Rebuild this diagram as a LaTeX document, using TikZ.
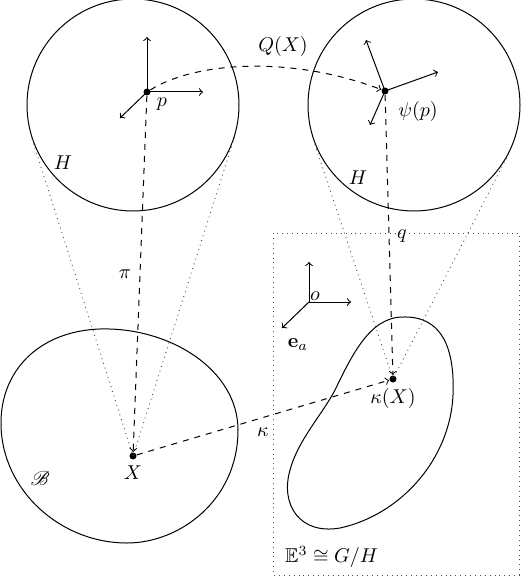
\documentclass[tikz,border=0pt]{standalone}
\usepackage{amssymb}
\usepackage{mathrsfs}
\usetikzlibrary{calc}
\begin{document}
\begin{tikzpicture}[x=0.5pt,y=-0.5pt,>=to,line width=0.5pt,
	fibre/.style={circle,draw,minimum size=106pt,inner sep=0pt},
	pt/.style={circle,fill,inner sep=0pt,minimum size=3.5pt},
	frame/.style={->},
	link/.style={->,dashed},
	cone/.style={dotted,black!70,line width=0.45pt}]
	\useasboundingbox (0,0) rectangle (520,577);
	\def\body{(100,329) .. controls (170,327) and (238,370) .. (238,430)
		.. controls (238,500) and (180,543) .. (127,543)
		.. controls (60,543) and (2,490) .. (1,425)
		.. controls (0,370) and (40,331) .. (100,329)}
	\def\image{(403,317) .. controls (440,316) and (455,345) .. (453,395)
		.. controls (450,460) and (400,515) .. (340,528)
		.. controls (300,535) and (280,505) .. (290,470)
		.. controls (298,440) and (322,415) .. (335,390)
		.. controls (352,355) and (370,317) .. (403,317)}
	\node[fibre] (fibL) at (133,105) {};
	\node[fibre] (fibR) at (414,105) {};
	\node[pt] (p) at (147,92) {};
	\node[pt] (psi) at (385,91) {};
	\node[pt] (X) at (133,456) {};
	\node[pt] (kX) at (393,379) {};
	\coordinate (o) at (309,302);
	\draw \body -- cycle;
	\draw \image -- cycle;
	\draw[cone] (273,233) rectangle (519,575);
	% cones onto the fibres
	\draw[cone] (tangent cs:node=fibL,point={(X)},solution=1) -- (X.center)
		-- (tangent cs:node=fibL,point={(X)},solution=2);
	\draw[cone] (tangent cs:node=fibR,point={(kX)},solution=1) -- (kX.center)
		-- (tangent cs:node=fibR,point={(kX)},solution=2);
	% frames
	\foreach \v in {(0,-55),(56,0),(-27,26)} \draw[frame] (p.center) -- ++\v;
	\foreach \v in {(-19,-51),(53,-19),(-15,34)} \draw[frame] (psi.center) -- ++\v;
	\foreach \v in {(0,-40),(42,0),(-27,26)} \draw[frame] (o) -- ++\v;
	% maps
	\draw[link] (p) .. controls (195,62) and (290,55) .. (psi);
	\draw[link] (p) -- (X);
	\draw[link] (psi) -- (kX);
	\draw[link] (X) -- (kX);
	\path (283,47) node (labQ) {$Q(X)$}
		(162,104) node (labp) {$p$}
		(63,163) node (labHL) {$H$}
		(358,178) node (labHR) {$H$}
		(418,112) node (labpsi) {$\psi(p)$}
		(125,274) node (labpi) {$\pi$}
		(402,236) node (labq) {$q$}
		(315,296) node (labo) {$o$}
		(298,345) node (labe) {$\mathbf{e}_a$}
		(393,398) node (labkX) {$\kappa(X)$}
		(263,432) node (labk) {$\kappa$}
		(133,473) node (labX) {$X$}
		(40,478) node (labB) {$\mathscr{B}$}
		(278,557) node[anchor=west] (labE) {$\mathbb{E}^3\cong G/H$}
		;
\end{tikzpicture}
\end{document}
